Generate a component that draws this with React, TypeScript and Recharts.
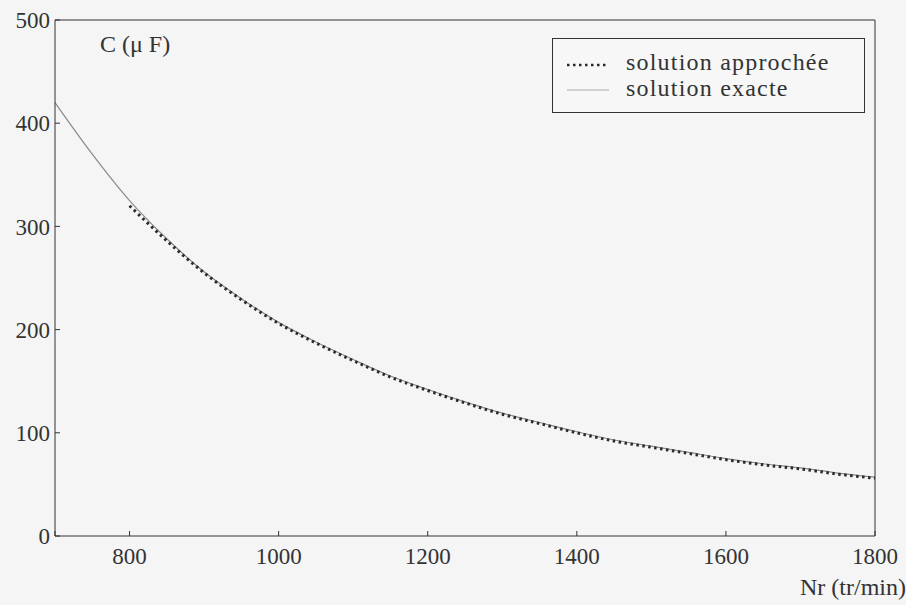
import React from 'react';
import { LineChart, Line, XAxis, YAxis } from 'recharts';

// vitesse du rotor (tr/min)
const nr = [700, 750, 800, 850, 900, 950, 1000, 1050, 1100, 1150, 1200, 1250, 1300, 1350, 1400, 1450, 1500, 1550, 1600, 1650, 1700, 1750, 1800];
// capacité (µF)
const exacte = [420, 370, 325, 288, 256, 230, 207, 188, 171, 155, 142, 130, 119, 110, 101, 93, 87, 81, 75, 70, 66, 61, 57];
const approchee = [null, null, 320, 286, 255, 229, 206, 187, 170, 154, 141, 129, 118, 109, 100, 92, 86, 80, 74, 69, 65, 60, 56];

const xTicks = [700, 800, 1000, 1200, 1400, 1600, 1800];
const xLabels = [800, 1000, 1200, 1400, 1600, 1800];
const yTicks = [0, 100, 200, 300, 400, 500];

const ink = '#333';
const font = '"Liberation Serif", "Times New Roman", serif';

const data = nr.map((n, i) => ({ nr: n, exacte: exacte[i], approchee: approchee[i] }));

export default function App() {
  const tickStyle = { fill: ink, fontSize: 23, fontFamily: font };
  return (
    <div style={{ position: 'absolute', left: 0, top: 0, width: 906, height: 605, background: '#f5f5f5', fontFamily: font, color: ink }}>
      <LineChart width={906} height={605} data={data} margin={{ top: 19, right: 30, bottom: 39, left: 0 }}>
        <XAxis
          xAxisId="b"
          dataKey="nr"
          type="number"
          domain={[700, 1800]}
          ticks={xTicks}
          tickFormatter={(v: number) => (xLabels.includes(v) ? String(v) : '')}
          height={30}
          tickSize={-5}
          tickMargin={17}
          stroke={ink}
          tick={tickStyle}
          interval={0}
        />
        <XAxis xAxisId="t" orientation="top" type="number" domain={[700, 1800]} ticks={xTicks} height={1} tickSize={-5} tick={false} stroke={ink} />
        <YAxis
          yAxisId="l"
          type="number"
          domain={[0, 500]}
          ticks={yTicks}
          width={55}
          tickSize={-5}
          tickMargin={10}
          stroke={ink}
          tick={tickStyle}
          interval={0}
        />
        <YAxis yAxisId="r" orientation="right" type="number" domain={[0, 500]} ticks={yTicks} width={1} tickSize={-5} tick={false} stroke={ink} />
        <Line xAxisId="b" yAxisId="l" dataKey="exacte" type="monotone" stroke="#8a8a8a" strokeWidth={1.2} dot={false} isAnimationActive={false} />
        <Line xAxisId="b" yAxisId="l" dataKey="approchee" type="monotone" stroke="#2a2a2a" strokeWidth={3} strokeDasharray="2.5 3.5" dot={false} connectNulls={false} isAnimationActive={false} />
      </LineChart>

      <div style={{ position: 'absolute', left: 100, top: 31, fontSize: 24, whiteSpace: 'nowrap' }}>C (μ F)</div>
      <div style={{ position: 'absolute', left: 800, top: 573, fontSize: 24, whiteSpace: 'nowrap', lineHeight: '28px' }}>Nr (tr/min)</div>

      <div style={{ position: 'absolute', left: 552, top: 38, width: 311, height: 73, border: `1px solid ${ink}`, background: '#f7f7f7' }}>
        <svg width={60} height={73} style={{ position: 'absolute', left: 0, top: 0 }}>
          <line x1={14} x2={56} y1={26} y2={26} stroke="#2a2a2a" strokeWidth={2.5} strokeDasharray="2.5 3.5" />
          <line x1={14} x2={56} y1={51} y2={51} stroke="#aaa" strokeWidth={1} />
        </svg>
        <div style={{ position: 'absolute', left: 73, top: 10, fontSize: 24, letterSpacing: 1.2, whiteSpace: 'nowrap', lineHeight: '26px' }}>solution approchée</div>
        <div style={{ position: 'absolute', left: 73, top: 36, fontSize: 24, letterSpacing: 1.2, whiteSpace: 'nowrap', lineHeight: '26px' }}>solution exacte</div>
      </div>
    </div>
  );
}
